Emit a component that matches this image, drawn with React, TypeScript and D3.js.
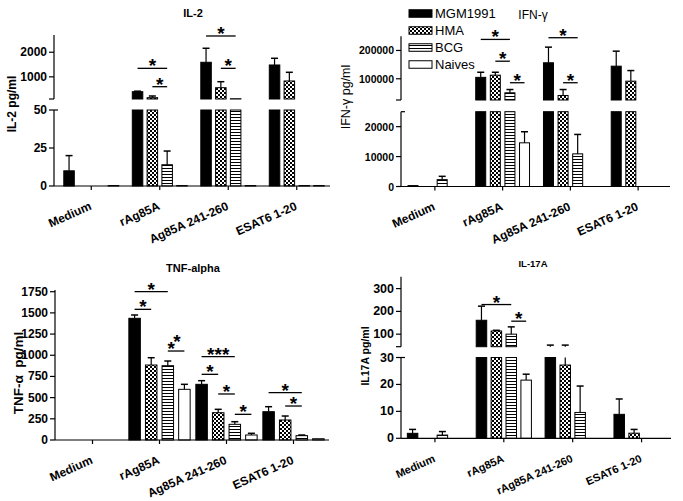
import React from "react";
import * as d3 from "d3";

const FONT = "'Liberation Sans', Arial, Helvetica, sans-serif";

const series = ["MGM1991", "HMA", "BCG", "Naives"];
const groupsA = ["Medium", "rAg85A", "Ag85A 241-260", "ESAT6 1-20"];
const groupsB = ["Medium", "rAg85A", "rAg85A 241-260", "ESAT6 1-20"];

// values per group: [MGM1991, HMA, BCG, Naives]; null = no bar
const il2Mean = [[10, null, null, 0.3], [397, 153, 14, 0.3], [1592, 559, 112, 0.3], [1482, 832, 0.3, 0.3]];
const il2Err = [[20, null, null, null], [418, 222, 23, null], [2161, 803, null, null], [1754, 1185, null, null]];
const il2Sig = [
  { g: 1, a: 0, b: 2, v: 1346, t: "*" },
  { g: 1, a: 1, b: 2, v: 600, t: "*" },
  { g: 2, a: 0, b: 2, v: 2660, t: "*" },
  { g: 2, a: 1, b: 2, v: 1346, t: "*" },
];

const ifnMean = [[300, null, 2300, null], [105000, 112700, 50500, 14600], [156500, 41000, 10900, null], [144500, 91500, null, null]];
const ifnErr = [[null, null, 3400, null], [123000, 123000, 62000, 18300], [211700, 62000, 17400, null], [197500, 129000, null, null]];
const ifnSig = [
  { g: 1, a: 0, b: 2, v: 239000, t: "*" },
  { g: 1, a: 1, b: 2, v: 162000, t: "*" },
  { g: 1, a: 2, b: 3, v: 86000, t: "*" },
  { g: 2, a: 0, b: 2, v: 245000, t: "*" },
  { g: 2, a: 1, b: 2, v: 86000, t: "*" },
];

const tnfMean = [[null, null, null, null], [1436, 885, 877, 598], [657, 322, 185, 59], [334, 236, 51, 15]];
const tnfErr = [[null, null, null, null], [1475, 971, 932, 657], [700, 362, 216, 79], [393, 283, 59, null]];
const tnfSig = [
  { g: 1, a: 0, b: 2, v: 1750, t: "*" },
  { g: 1, a: 0, b: 1, v: 1542, t: "*" },
  { g: 1, a: 2, b: 3, v: 1050, t: "**" },
  { g: 2, a: 0, b: 2, v: 983, t: "***" },
  { g: 2, a: 0, b: 1, v: 775, t: "*" },
  { g: 2, a: 1, b: 2, v: 543, t: "*" },
  { g: 2, a: 2, b: 3, v: 303, t: "*" },
  { g: 3, a: 0, b: 2, v: 558, t: "*" },
  { g: 3, a: 1, b: 2, v: 401, t: "*" },
];

const il17Mean = [[1.85, null, 1.2, null], [161, 114, 100, 21.6], [32, 27.2, 9.6, null], [8.9, 1.9, null, null]];
const il17Err = [[3.3, null, 2.5, null], [223, 117, 132, 23.8], [52, 52, 19.4, null], [14.6, 3.3, null, null]];
const il17Sig = [
  { g: 1, a: 0, b: 2, v: 230, t: "*" },
  { g: 1, a: 2, b: 3, v: 157, t: "*" },
];

const il2Ticks = [[0, 25, 50], [1000, 2000]];
const ifnTicks = [[0, 10000, 20000], [100000, 200000]];
const tnfTicks = [[0, 250, 500, 750, 1000, 1250, 1500, 1750]];
const il17Ticks = [[0, 10, 20, 30], [100, 200, 300]];

const fills = ["#000", "url(#checker)", "url(#stripes)", "#fff"];

type Seg = { domain: [number, number]; range: [number, number]; ticks: number[] };
type Cfg = {
  axisX: number; baseY: number; axisEnd: number; axisTop: number;
  groupRange: [number, number]; pitch: number; barW: number;
  segs: Seg[]; tickSize: number;
  title: { text: string; x: number; y: number; size: number; weight: string };
  ylabel: { text: string; x: number; y: number; size: number; weight: string };
  xSize: number;
};

function Panel({ cfg, groups, mean, err, sig }: { cfg: Cfg; groups: string[]; mean: (number | null)[][]; err: (number | null)[][]; sig: { g: number; a: number; b: number; v: number; t: string }[] }) {
  const gx = d3.scaleBand<string>().domain(groups).range(cfg.groupRange).padding(0);
  const pi = 1 - cfg.barW / cfg.pitch;
  const inner = d3.scaleBand<string>().domain(series).range([-2 * cfg.pitch, 2 * cfg.pitch]).paddingInner(pi).paddingOuter(pi / 2);
  const gc = (g: string) => (gx(g) as number) + gx.bandwidth() / 2;
  const bx = (gi: number, si: number) => gc(groups[gi]) + (inner(series[si]) as number);
  const bcx = (gi: number, si: number) => bx(gi, si) + inner.bandwidth() / 2;
  const scales = cfg.segs.map((s) => d3.scaleLinear().domain(s.domain).range(s.range));
  const yOf = (v: number) => {
    for (let i = 0; i < cfg.segs.length; i++) {
      const s = cfg.segs[i];
      if (v <= s.domain[1] || i === cfg.segs.length - 1) return scales[i](Math.max(v, s.domain[0]));
    }
    return 0;
  };
  const els: React.ReactNode[] = [];
  mean.forEach((row, gi) => {
    row.forEach((v, si) => {
      if (v === null) return;
      const x = bx(gi, si);
      const w = inner.bandwidth();
      cfg.segs.forEach((s, k) => {
        const lo = s.domain[0];
        const hi = Math.min(v, s.domain[1]);
        if (v > lo) {
          const y1 = scales[k](hi);
          const y0 = scales[k](lo);
          els.push(<rect key={`b${gi}-${si}-${k}`} x={x} y={y1} width={w} height={Math.max(0.01, y0 - y1)} fill={fills[si]} stroke="#000" strokeWidth={1} />);
        }
      });
      const e = err[gi][si];
      if (e !== null && e !== undefined) {
        const cx = x + w / 2;
        cfg.segs.forEach((s, k) => {
          const a = Math.max(v, s.domain[0]);
          const b = Math.min(e, s.domain[1]);
          if (b > a) {
            els.push(<line key={`e${gi}-${si}-${k}`} x1={cx} x2={cx} y1={scales[k](a)} y2={scales[k](b)} stroke="#000" strokeWidth={1.2} />);
          }
          if (e >= s.domain[0] && e <= s.domain[1]) {
            els.push(<line key={`c${gi}-${si}-${k}`} x1={cx - 3.5} x2={cx + 3.5} y1={scales[k](e)} y2={scales[k](e)} stroke="#000" strokeWidth={1.5} />);
          }
        });
      }
    });
  });

  const sigEls = sig.map((s, i) => {
    const x1 = bcx(s.g, s.a);
    const x2 = bcx(s.g, s.b);
    const y = yOf(s.v);
    const cx = (x1 + x2) / 2;
    const st = { fontFamily: FONT, fontWeight: "bold", fontSize: 19 } as React.CSSProperties;
    return (
      <g key={`s${i}`}>
        <line x1={x1} x2={x2} y1={y} y2={y} stroke="#000" strokeWidth={1.3} />
        {s.t === "**" ? (
          <text x={cx - 2} y={y + 4} style={st} textAnchor="middle">
            <tspan>*</tspan>
            <tspan dx={-1.5} dy={-7.5}>*</tspan>
          </text>
        ) : (
          <text x={cx} y={y + 4} textAnchor="middle" style={st}>{s.t}</text>
        )}
      </g>
    );
  });

  const axis: React.ReactNode[] = [];
  cfg.segs.forEach((s, k) => {
    const top = k === cfg.segs.length - 1 ? cfg.axisTop : s.range[1];
    const bottom = k === 0 ? cfg.baseY : s.range[0];
    axis.push(<line key={`ax${k}`} x1={cfg.axisX} x2={cfg.axisX} y1={bottom} y2={top} stroke="#000" strokeWidth={1.2} />);
    if (k > 0) axis.push(<line key={`bk${k}`} x1={cfg.axisX - 5} x2={cfg.axisX} y1={s.range[0]} y2={s.range[0]} stroke="#000" strokeWidth={1.2} />);
    if (k < cfg.segs.length - 1) axis.push(<line key={`bt${k}`} x1={cfg.axisX} x2={cfg.axisX + 4} y1={s.range[1]} y2={s.range[1]} stroke="#000" strokeWidth={1.2} />);
    s.ticks.forEach((t) => {
      const y = scales[k](t);
      axis.push(<line key={`t${k}-${t}`} x1={cfg.axisX - 5} x2={cfg.axisX} y1={y} y2={y} stroke="#000" strokeWidth={1.2} />);
      axis.push(
        <text key={`tl${k}-${t}`} x={cfg.axisX - 7} y={y} textAnchor="end" dominantBaseline="central" style={{ fontFamily: FONT, fontWeight: "bold", fontSize: cfg.tickSize }}>
          {String(t)}
        </text>
      );
    });
  });
  axis.push(<line key="xax" x1={cfg.axisX} x2={cfg.axisEnd} y1={cfg.baseY} y2={cfg.baseY} stroke="#000" strokeWidth={1.2} />);
  groups.forEach((g) => {
    const x = gc(g);
    axis.push(<line key={`xt${g}`} x1={x} x2={x} y1={cfg.baseY} y2={cfg.baseY + 4} stroke="#000" strokeWidth={1.2} />);
    axis.push(
      <text key={`xl${g}`} transform={`translate(${x + 1},${cfg.baseY + 23}) rotate(-24)`} textAnchor="end" style={{ fontFamily: FONT, fontWeight: "bold", fontSize: cfg.xSize }}>
        {g}
      </text>
    );
  });

  return (
    <g>
      {els}
      {axis}
      {sigEls}
      <text x={cfg.title.x} y={cfg.title.y} textAnchor="middle" dominantBaseline="central" style={{ fontFamily: FONT, fontWeight: cfg.title.weight, fontSize: cfg.title.size }}>
        {cfg.title.text}
      </text>
      <text transform={`translate(${cfg.ylabel.x},${cfg.ylabel.y}) rotate(-90)`} textAnchor="middle" dominantBaseline="central" style={{ fontFamily: FONT, fontWeight: cfg.ylabel.weight, fontSize: cfg.ylabel.size, whiteSpace: "pre" }}>
        {cfg.ylabel.text}
      </text>
    </g>
  );
}

const il2Cfg: Cfg = {
  axisX: 54, baseY: 186, axisEnd: 330, axisTop: 35, groupRange: [57, 331], pitch: 14.8, barW: 10.5,
  segs: [
    { domain: [0, 50], range: [186, 110], ticks: il2Ticks[0] },
    { domain: [100, 2700], range: [99, 35], ticks: il2Ticks[1] },
  ],
  tickSize: 12,
  title: { text: "IL-2", x: 193, y: 13, size: 11, weight: "bold" },
  ylabel: { text: "IL-2 pg/ml", x: 12, y: 104, size: 12, weight: "bold" },
  xSize: 12,
};
const ifnCfg: Cfg = {
  axisX: 401, baseY: 186.5, axisEnd: 670, axisTop: 36.3, groupRange: [401, 672], pitch: 14.6, barW: 10,
  segs: [
    { domain: [0, 25000], range: [186.5, 111.7], ticks: ifnTicks[0] },
    { domain: [25000, 250000], range: [100, 36.3], ticks: ifnTicks[1] },
  ],
  tickSize: 10.5,
  title: { text: "IFN-γ", x: 533, y: 15, size: 12, weight: "normal" },
  ylabel: { text: "IFN-γ pg/ml", x: 346, y: 97, size: 12.5, weight: "normal" },
  xSize: 12,
};
const tnfCfg: Cfg = {
  axisX: 55, baseY: 440, axisEnd: 329, axisTop: 290, groupRange: [59, 327], pitch: 16.6, barW: 11.5,
  segs: [{ domain: [0, 1750], range: [440, 291.7], ticks: tnfTicks[0] }],
  tickSize: 12,
  title: { text: "TNF-alpha", x: 193, y: 268, size: 11, weight: "bold" },
  ylabel: { text: "TNF-α  pg/ml", x: 18, y: 373, size: 13.5, weight: "bold" },
  xSize: 12,
};
const il17Cfg: Cfg = {
  axisX: 401, baseY: 438.3, axisEnd: 671, axisTop: 276.7, groupRange: [400.5, 676], pitch: 14.9, barW: 10.5,
  segs: [
    { domain: [0, 30], range: [438.3, 357.5], ticks: il17Ticks[0] },
    { domain: [45, 350], range: [346.7, 277.2], ticks: il17Ticks[1] },
  ],
  tickSize: 12.5,
  title: { text: "IL-17A", x: 533, y: 263, size: 9.5, weight: "bold" },
  ylabel: { text: "IL17A pg/ml", x: 365, y: 356, size: 10.5, weight: "bold" },
  xSize: 11,
};

function Legend() {
  const rowY = d3.scaleLinear().domain([0, 3]).range([13.5, 64.5]);
  return (
    <g>
      {series.map((s, i) => (
        <g key={s}>
          <rect x={409} y={rowY(i) - 3.75} width={23} height={7.5} fill={fills[i]} stroke="#000" strokeWidth={1} />
          <text x={435} y={rowY(i)} dominantBaseline="central" style={{ fontFamily: FONT, fontSize: 13 }}>{s}</text>
        </g>
      ))}
    </g>
  );
}

export default function App() {
  return (
    <svg width={683} height={501} style={{ position: "fixed", left: 0, top: 0, background: "#fff" }}>
      <defs>
        <pattern id="checker" width={4} height={4} patternUnits="userSpaceOnUse">
          <rect width={4} height={4} fill="#fff" />
          <rect x={0} y={0} width={2} height={2} fill="#000" />
          <rect x={2} y={2} width={2} height={2} fill="#000" />
        </pattern>
        <pattern id="stripes" width={4} height={3} patternUnits="userSpaceOnUse">
          <rect width={4} height={3} fill="#fff" />
          <rect x={0} y={0} width={4} height={1} fill="#000" />
        </pattern>
      </defs>
      <rect width={683} height={501} fill="#fff" />
      <Panel cfg={il2Cfg} groups={groupsA} mean={il2Mean} err={il2Err} sig={il2Sig} />
      <Panel cfg={ifnCfg} groups={groupsA} mean={ifnMean} err={ifnErr} sig={ifnSig} />
      <Panel cfg={tnfCfg} groups={groupsA} mean={tnfMean} err={tnfErr} sig={tnfSig} />
      <Panel cfg={il17Cfg} groups={groupsB} mean={il17Mean} err={il17Err} sig={il17Sig} />
      <Legend />
    </svg>
  );
}
